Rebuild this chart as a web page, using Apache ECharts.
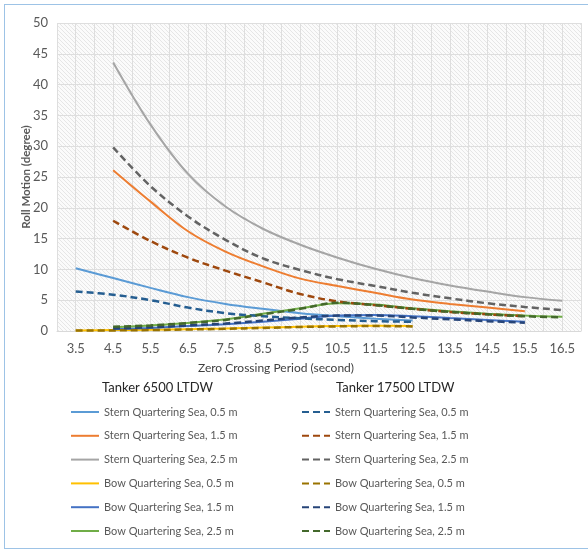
<!DOCTYPE html>
<html>
<head>
<meta charset="utf-8">
<script src="https://cdn.jsdelivr.net/npm/echarts@6/dist/echarts.min.js"></script>
<style>
  html, body { margin: 0; padding: 0; background: #fff; }
  #chart { position: absolute; left: 0; top: 0; width: 588px; height: 549px; }
  #frame { position: absolute; left: 4px; top: 4px; width: 620px; height: 543px; border: 1px solid #9dc3e6; }
</style>
</head>
<body>
<div id="frame"></div>
<div id="chart"></div>
<script>
  // periods (s) for each wave height
  const periods05 = [3.5, 4.5, 5.5, 6.5, 7.5, 8.5, 9.5, 10.5, 11.5, 12.5]
  const periods15 = [4.5, 5.5, 6.5, 7.5, 8.5, 9.5, 10.5, 11.5, 12.5, 13.5, 14.5, 15.5]
  const periods25 = [4.5, 5.5, 6.5, 7.5, 8.5, 9.5, 10.5, 11.5, 12.5, 13.5, 14.5, 15.5, 16.5]

  // Tanker 6500 LTDW
  const stern05_6500 = [10.2, 8.6, 7.0, 5.5, 4.4, 3.6, 2.9, 2.4, 2.0, 1.7]
  const stern15_6500 = [26.1, 21.0, 16.2, 12.9, 10.5, 8.5, 7.3, 6.2, 5.1, 4.4, 3.8, 3.2]
  const stern25_6500 = [43.6, 33.5, 25.5, 20.2, 16.6, 14.0, 11.9, 10.1, 8.6, 7.4, 6.4, 5.5, 4.9]
  const bow05_6500 = [0.1, 0.15, 0.2, 0.3, 0.4, 0.55, 0.7, 0.8, 0.85, 0.8]
  const bow15_6500 = [0.3, 0.5, 0.8, 1.1, 1.5, 2.0, 2.5, 2.6, 2.4, 2.1, 1.8, 1.5]
  const bow25_6500 = [0.6, 0.9, 1.3, 1.9, 2.8, 3.7, 4.5, 4.3, 3.7, 3.2, 2.8, 2.5, 2.3]

  // Tanker 17500 LTDW
  const stern05_17500 = [6.4, 5.9, 5.0, 3.8, 2.9, 2.4, 2.05, 1.8, 1.6, 1.5]
  const stern15_17500 = [17.9, 14.6, 11.9, 9.8, 7.9, 6.0, 4.8, 4.2, 3.6, 3.1, 2.7, 2.4]
  const stern25_17500 = [29.8, 23.5, 18.6, 14.8, 11.8, 9.9, 8.4, 7.3, 6.2, 5.3, 4.5, 3.9, 3.4]
  const bow05_17500 = [0.1, 0.1, 0.15, 0.25, 0.35, 0.5, 0.65, 0.75, 0.8, 0.75]
  const bow15_17500 = [0.4, 0.6, 0.9, 1.2, 1.7, 2.2, 2.5, 2.5, 2.2, 1.9, 1.6, 1.35]
  const bow25_17500 = [0.7, 0.9, 1.3, 1.8, 2.7, 3.6, 4.6, 4.2, 3.6, 3.1, 2.7, 2.4, 2.2]

  const seriesNames = [
    'Stern Quartering Sea, 0.5 m', 'Stern Quartering Sea, 1.5 m', 'Stern Quartering Sea, 2.5 m',
    'Bow Quartering Sea, 0.5 m', 'Bow Quartering Sea, 1.5 m', 'Bow Quartering Sea, 2.5 m'
  ]
  const yTicks = [0, 5, 10, 15, 20, 25, 30, 35, 40, 45, 50]

  const font = "Lato, 'Liberation Sans', sans-serif"
  const colors6500 = ['#5b9bd5', '#ed7d31', '#a5a5a5', '#ffc000', '#4472c4', '#70ad47']
  const colors17500 = ['#255e91', '#9e480e', '#636363', '#997300', '#264478', '#43682b']

  // hatched plot background
  const hatch = document.createElement('canvas')
  hatch.width = 4
  hatch.height = 4
  const hctx = hatch.getContext('2d')
  hctx.fillStyle = '#fbfbfb'
  hctx.fillRect(0, 0, 4, 4)
  hctx.strokeStyle = '#e6e6e6'
  hctx.lineWidth = 1
  hctx.beginPath()
  hctx.moveTo(-1, -1)
  hctx.lineTo(5, 5)
  hctx.stroke()

  function pairs(xs, ys) {
    return ys.map((v, i) => [xs[i], v])
  }

  const groups6500 = [
    [periods05, stern05_6500], [periods15, stern15_6500], [periods25, stern25_6500],
    [periods05, bow05_6500], [periods15, bow15_6500], [periods25, bow25_6500]
  ]
  const groups17500 = [
    [periods05, stern05_17500], [periods15, stern15_17500], [periods25, stern25_17500],
    [periods05, bow05_17500], [periods15, bow15_17500], [periods25, bow25_17500]
  ]

  const series = []
  groups6500.forEach((g, i) => {
    series.push({
      name: seriesNames[i] + '|6500',
      type: 'line',
      data: pairs(g[0], g[1]),
      smooth: 0.35,
      symbol: 'none',
      color: colors6500[i],
      lineStyle: { color: colors6500[i], width: 2 }
    })
  })
  groups17500.forEach((g, i) => {
    series.push({
      name: seriesNames[i] + '|17500',
      type: 'line',
      data: pairs(g[0], g[1]),
      smooth: 0.35,
      symbol: 'none',
      color: colors17500[i],
      lineStyle: { color: colors17500[i], width: 2.5, type: [7, 4] }
    })
  })

  const legendBase = {
    orient: 'vertical',
    top: 405,
    padding: 0,
    itemWidth: 28,
    itemHeight: 14,
    itemGap: 9.8,
    // hide the marker dot, keep only the line
    itemStyle: { color: 'transparent', borderColor: 'transparent', borderWidth: 0 },
    formatter: name => name.split('|')[0],
    textStyle: { color: '#595959', fontSize: 11, lineHeight: 14, fontFamily: font }
  }

  const chart = echarts.init(document.getElementById('chart'))
  chart.setOption({
    animation: false,
    backgroundColor: 'transparent',
    title: [
      { text: 'Tanker 6500 LTDW', left: 102, top: 381, padding: 0,
        textStyle: { fontSize: 13, fontWeight: 'normal', color: '#262626', fontFamily: font } },
      { text: 'Tanker 17500 LTDW', left: 336, top: 381, padding: 0,
        textStyle: { fontSize: 13, fontWeight: 'normal', color: '#262626', fontFamily: font } }
    ],
    legend: [
      Object.assign({}, legendBase, { left: 70, data: seriesNames.map(n => n + '|6500') }),
      Object.assign({}, legendBase, { left: 301, data: seriesNames.map(n => n + '|17500') })
    ],
    grid: {
      left: 57, top: 23, width: 524, height: 308,
      show: true,
      borderWidth: 0,
      backgroundColor: { image: hatch, repeat: 'repeat' }
    },
    xAxis: {
      type: 'value',
      min: 3,
      max: 17,
      interval: 0.5,
      name: 'Zero Crossing Period (second)',
      nameLocation: 'middle',
      nameGap: 31,
      nameMoveOverlap: false,
      nameTextStyle: { color: '#404040', fontSize: 12, fontFamily: font, padding: [0, 86, 0, 0] },
      axisLine: { show: true, lineStyle: { color: '#d9d9d9' } },
      axisTick: { show: false },
      axisLabel: {
        color: '#595959', fontSize: 13, fontFamily: font, margin: 11,
        formatter: v => (Math.abs(v % 1 - 0.5) < 1e-6 ? v.toFixed(1) : '')
      },
      splitLine: { show: true, lineStyle: { color: '#dedede', width: 1 } }
    },
    yAxis: {
      type: 'value',
      min: yTicks[0],
      max: yTicks[yTicks.length - 1],
      interval: yTicks[1] - yTicks[0],
      name: 'Roll Motion (degree)',
      nameLocation: 'middle',
      nameGap: 25,
      nameMoveOverlap: false,
      nameTextStyle: { color: '#595959', fontSize: 11.5, fontWeight: 'bold', fontFamily: font },
      axisLine: { show: false },
      axisTick: { show: false },
      axisLabel: { color: '#595959', fontSize: 13, fontFamily: font, margin: 9 },
      splitLine: { show: true, lineStyle: { color: '#dedede', width: 1 } }
    },
    series: series
  })
</script>
</body>
</html>
